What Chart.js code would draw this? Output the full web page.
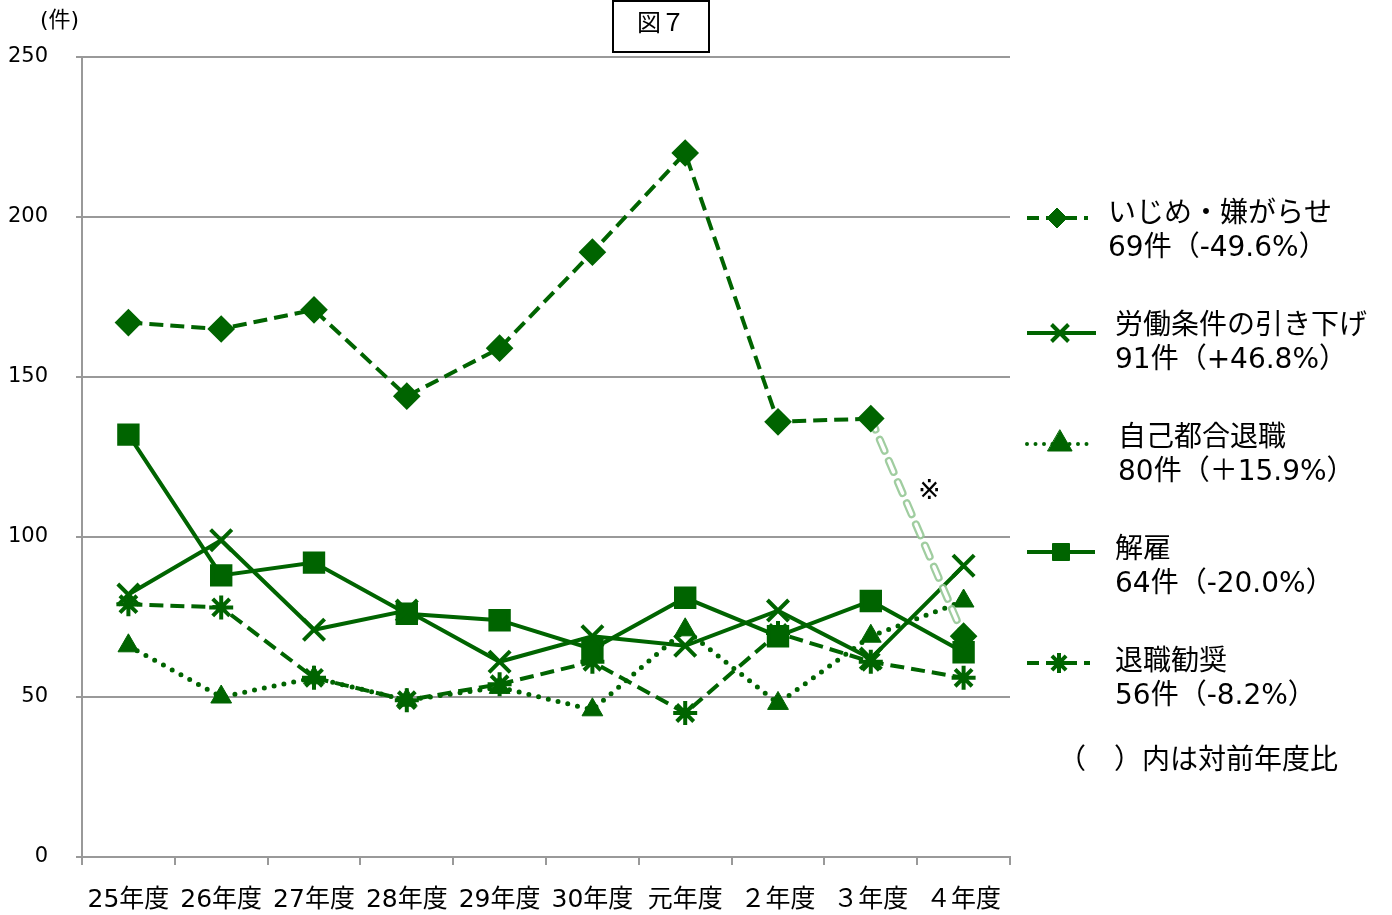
<!DOCTYPE html>
<html>
<head>
<meta charset="utf-8">
<script src="https://cdn.jsdelivr.net/npm/chart.js@4/dist/chart.umd.min.js"></script>
<style>
body { margin: 0; background: #fff; }
</style>
</head>
<body>
<canvas id="chart" width="1392" height="915"></canvas>
<script>
var years = ['25年度', '26年度', '27年度', '28年度', '29年度', '30年度', '元年度', '２年度', '３年度', '４年度']
var ijime = [167, 165, 171, 144, 159, 189, 220, 136, 137, 69]
var roudou = [82, 99, 71, 77, 61, 69, 66, 77, 62, 91]
var jiko = [66, 50, 56, 49, 53, 46, 71, 48, 69, 80]
var kaiko = [132, 88, 92, 76, 74, 65, 81, 69, 80, 64]
var kanshou = [79, 78, 56, 49, 54, 61, 45, 70, 61, 56]
var names = ['いじめ・嫌がらせ', '労働条件の引き下げ', '自己都合退職', '解雇', '退職勧奨']
var changes = ['-49.6%', '+46.8%', '＋15.9%', '-20.0%', '-8.2%']
var yTicks = [0, 50, 100, 150, 200, 250]

var green = '#006400'
var jp = '"DejaVu Sans", "Noto Sans CJK JP"'

// last step of いじめ・嫌がらせ is drawn as a pale outlined dash
var ghost = ijime.map(function (v, i) { return i >= 8 ? v : null })

var datasets = [{
    label: names[0], data: ijime, order: 0,
    borderColor: green, backgroundColor: green, borderWidth: 4, borderDash: [14, 7],
    pointStyle: 'rectRot', pointRadius: 11,
    segment: { borderColor: function (c) { return c.p1DataIndex === 9 ? 'rgba(0,0,0,0)' : green } }
}, {
    label: names[1], data: roudou, order: 3,
    borderColor: green, backgroundColor: green, borderWidth: 4,
    pointStyle: 'crossRot', pointRadius: 15, pointBorderWidth: 4
}, {
    label: names[2], data: jiko, order: 4,
    borderColor: green, backgroundColor: green, borderWidth: 5, borderDash: [0, 10], borderCapStyle: 'round',
    pointStyle: 'triangle', pointRadius: 12, pointBorderWidth: 1
}, {
    label: names[3], data: kaiko, order: 3,
    borderColor: green, backgroundColor: green, borderWidth: 4,
    pointStyle: 'rect', pointRadius: 13
}, {
    label: names[4], data: kanshou, order: 3,
    borderColor: green, backgroundColor: green, borderWidth: 4, borderDash: [14, 7],
    pointStyle: 'star', pointRadius: 12, pointBorderWidth: 4
}, {
    label: 'ghost', data: ghost, order: 2,
    borderColor: 'rgba(150,200,150,0.9)', borderWidth: 8, borderDash: [12, 11], borderCapStyle: 'round',
    pointRadius: 0
}, {
    label: 'ghost2', data: ghost, order: 1,
    borderColor: '#fff', borderWidth: 3.5, borderDash: [12, 11], borderCapStyle: 'round',
    pointRadius: 0
}]

// legend rows: [line y, text y, line x1, line x2, marker x, text x, marker radius, line width, dash]
var legendRows = [
    [218, 215, 1027, 1088, 1057, 1108, 10, 4, [12, 7]],
    [333, 327, 1027, 1096, 1060, 1115, 12, 4, []],
    [444, 439, 1027, 1090, 1060, 1118, 14, 4, [0, 8.5]],
    [552, 551, 1027, 1095, 1061, 1115, 12, 4, []],
    [663, 663, 1027, 1090, 1059, 1115, 10, 4, [12, 7]]
]
var seriesAll = [ijime, roudou, jiko, kaiko, kanshou]

var extras = {
    id: 'extras',
    afterDraw: function (chart) {
        var ctx = chart.ctx
        ctx.save()
        // title box
        ctx.strokeStyle = '#000'
        ctx.lineWidth = 2
        ctx.strokeRect(613, 1, 96, 51)
        ctx.fillStyle = '#000'
        ctx.textAlign = 'center'
        ctx.textBaseline = 'middle'
        ctx.font = '24px ' + jp
        ctx.fillText('図７', 661, 25)
        ctx.font = '22px ' + jp
        ctx.textAlign = 'left'
        ctx.fillText('(件)', 40, 21)
        ctx.font = '27px ' + jp
        ctx.fillText('※', 918, 492)

        // legend
        legendRows.forEach(function (r, i) {
            var ds = chart.data.datasets[i]
            ctx.save()
            ctx.strokeStyle = green
            ctx.lineWidth = r[7]
            ctx.setLineDash(r[8])
            ctx.lineCap = ds.borderCapStyle || 'butt'
            ctx.beginPath()
            ctx.moveTo(r[2], r[0])
            ctx.lineTo(r[3], r[0])
            ctx.stroke()
            ctx.setLineDash([])
            ctx.fillStyle = green
            ctx.lineWidth = ds.pointBorderWidth || 1
            Chart.helpers.drawPoint(ctx, {
                pointStyle: ds.pointStyle, radius: r[6], rotation: 0,
                borderWidth: ds.pointBorderWidth || 1
            }, r[4], r[0])
            ctx.restore()
            var vals = seriesAll[i]
            ctx.fillStyle = '#000'
            ctx.font = '28px ' + jp
            ctx.textAlign = 'left'
            ctx.textBaseline = 'middle'
            ctx.fillText(names[i], r[5], r[1])
            ctx.fillText(vals[vals.length - 1] + '件（' + changes[i] + '）', r[5], r[1] + 34)
        })
        ctx.fillText('（　）内は対前年度比', 1058, 762)
        ctx.restore()
    }
}

new Chart(document.getElementById('chart'), {
    type: 'line',
    data: { labels: years, datasets: datasets },
    options: {
        responsive: false,
        animation: false,
        layout: { padding: { left: 0, right: 382, top: 57, bottom: 0 } },
        plugins: { legend: { display: false }, tooltip: { enabled: false } },
        elements: { line: { tension: 0 } },
        scales: {
            x: {
                offset: true,
                grid: { offset: true, drawOnChartArea: false, color: '#999', lineWidth: 2, tickLength: 8 },
                border: { color: '#999', width: 2 },
                ticks: { color: '#000', font: { family: jp, size: 25 }, padding: 20, maxRotation: 0 },
                afterFit: function (s) { s.height = 58 }
            },
            y: {
                min: 0, max: 250,
                afterBuildTicks: function (s) { s.ticks = yTicks.map(function (v) { return { value: v } }) },
                grid: { color: '#999', lineWidth: 2, tickLength: 6 },
                border: { color: '#999', width: 2 },
                ticks: { color: '#000', font: { family: jp, size: 21 }, padding: 28 },
                afterFit: function (s) { s.width = 82 }
            }
        }
    },
    plugins: [extras]
})
</script>
</body>
</html>
